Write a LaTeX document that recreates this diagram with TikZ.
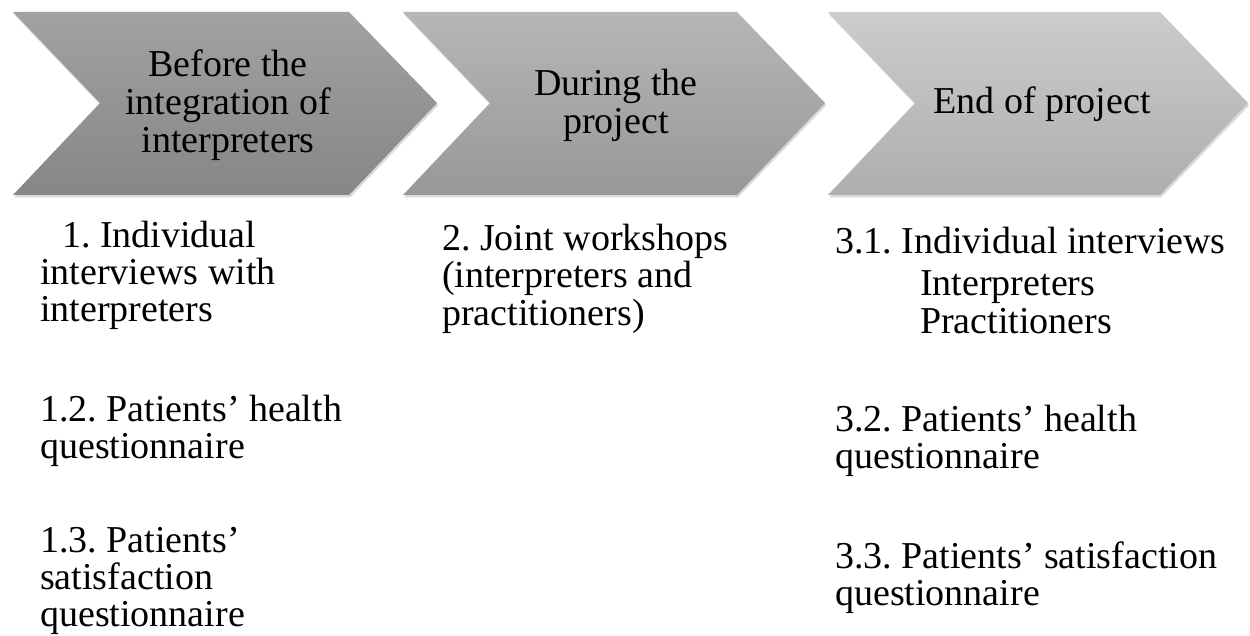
\documentclass[tikz,border=0pt]{standalone}
\usepackage{fontspec}
\setmainfont{Liberation Serif}
\usetikzlibrary{shadows}
\frenchspacing

\definecolor{chevAtop}{RGB}{162,162,162}
\definecolor{chevAbot}{RGB}{134,134,134}
\definecolor{chevBtop}{RGB}{182,182,182}
\definecolor{chevBbot}{RGB}{152,152,152}
\definecolor{chevCtop}{RGB}{204,204,204}
\definecolor{chevCbot}{RGB}{174,174,174}

\begin{document}
\begin{tikzpicture}[x=1pt,y=-1pt,
        chev/.style={drop shadow={shadow xshift=1pt,shadow yshift=-2.5pt,opacity=.3}},
        phase/.style={align=center,inner sep=0pt,font=\fontsize{38}{38}\selectfont},
        item/.style={align=left,anchor=base west,inner sep=0pt,font=\fontsize{38}{37}\selectfont}]
        \useasboundingbox (0,0) rectangle (1250,636);

        \shade[chev,top color=chevAtop,bottom color=chevAbot] (13,12) -- (349,12) -- (437,103) -- (349,195) -- (13,195) -- (100,103) -- cycle;
        \shade[chev,top color=chevBtop,bottom color=chevBbot] (403,12) -- (737,12) -- (825,103) -- (737,195) -- (403,195) -- (490,103) -- cycle;
        \shade[chev,top color=chevCtop,bottom color=chevCbot] (828,12) -- (1160,12) -- (1248,103) -- (1160,195) -- (828,195) -- (915,103) -- cycle;

        \node[phase] (before) at (228,105) {Before the\\integration of\\interpreters};
        \node[phase] (during) at (616,105) {During the\\project};
        \node[phase] (endproj) at (1042,104) {End of project};

        % anchor base = last line
        \node[item] (indiv) at (40,322) {\hspace*{22pt}1. Individual\\interviews with\\interpreters};
        \node[item] (healthA) at (40,458) {1.2. Patients' health\\questionnaire};
        \node[item] (satisA) at (40,626) {1.3. Patients'\\satisfaction\\questionnaire};

        \node[item] (joint) at (442,325) {2. Joint workshops\\(interpreters and\\practitioners)};

        \node[item] (indivB) at (835,333) {3.1. Individual interviews\\[6pt]\hspace*{85pt}Interpreters\\\hspace*{85pt}Practitioners};
        \node[item] (healthB) at (835,468) {3.2. Patients' health\\questionnaire};
        \node[item] (satisB) at (835,605) {3.3. Patients' satisfaction\\questionnaire};
    \end{tikzpicture}
\end{document}
